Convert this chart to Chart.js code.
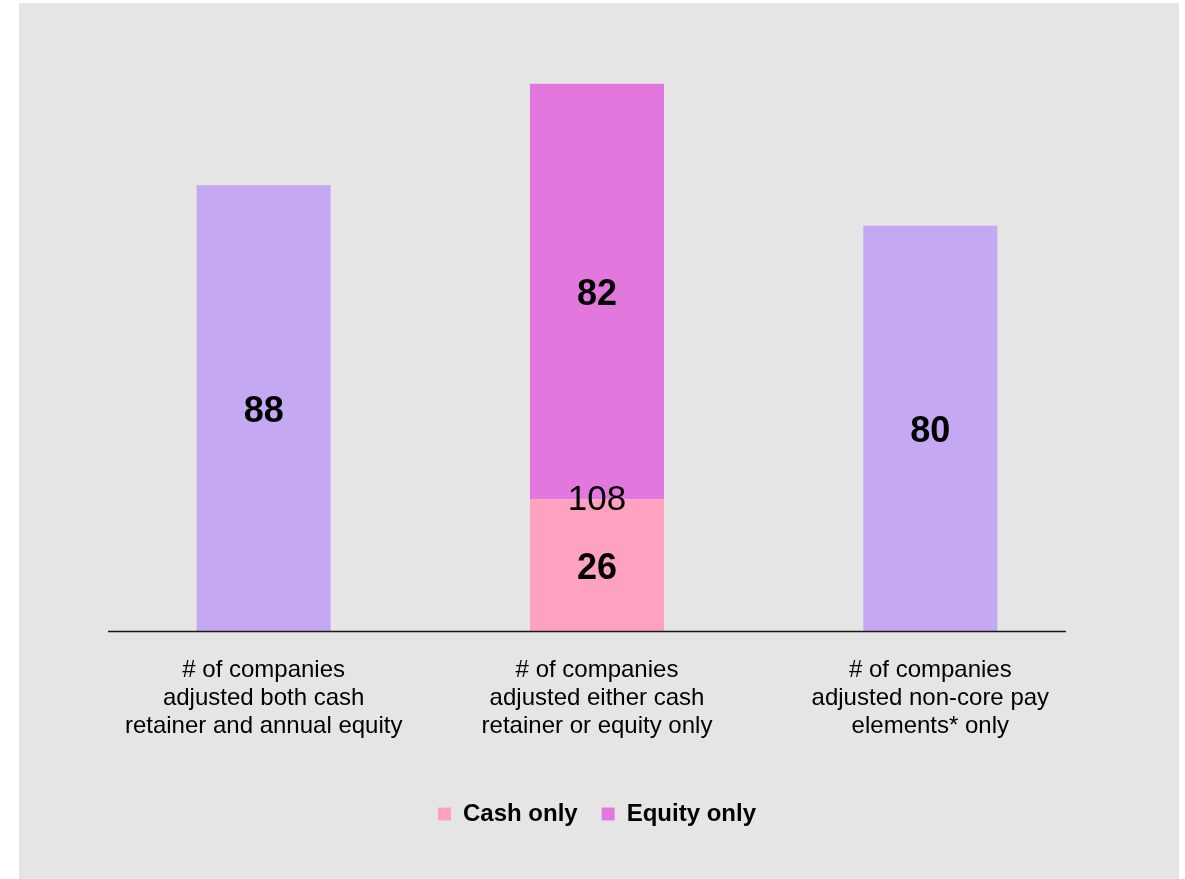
<!DOCTYPE html>
<html>
<head>
<meta charset="utf-8">
<script src="https://cdn.jsdelivr.net/npm/chart.js@4.4.1/dist/chart.umd.min.js"></script>
<style>
  body { margin: 0; background: #fff; }
  #wrap { position: absolute; left: 19px; top: 3px; width: 1160px; height: 876px; background: #e5e5e5; }
</style>
</head>
<body>
<div id="wrap"><canvas id="adjchart" width="1160" height="876"></canvas></div>
<script>
const categories = [
    ['# of companies', 'adjusted both cash', 'retainer and annual equity'],
    ['# of companies', 'adjusted either cash', 'retainer or equity only'],
    ['# of companies', 'adjusted non-core pay', 'elements* only']
];
const cashOnly = [null, 26, null];
const equityOnly = [null, 82, null];
const singleCount = [88, null, 80];

const FONT = '"Liberation Sans", Arial, Helvetica, sans-serif';

// value labels in the middle of each segment + total on the stacked bar
const barLabels = {
    id: 'barLabels',
    afterDatasetsDraw(chart) {
        const ctx = chart.ctx;
        const area = chart.chartArea;
        ctx.save();

        // base line
        ctx.strokeStyle = '#1a1a1a';
        ctx.lineWidth = 1.5;
        ctx.beginPath();
        ctx.moveTo(area.left + 11, area.bottom + 0.5);
        ctx.lineTo(area.right - 31, area.bottom + 0.5);
        ctx.stroke();

        ctx.textAlign = 'center';
        ctx.textBaseline = 'middle';
        ctx.fillStyle = '#000';
        ctx.font = 'bold 36px ' + FONT;
        chart.data.datasets.forEach((ds, i) => {
            const meta = chart.getDatasetMeta(i);
            meta.data.forEach((bar, j) => {
                const v = ds.data[j];
                if (v == null) return;
                const c = bar.getCenterPoint();
                ctx.fillText(v, c.x, c.y + 4);
            });
        });

        ctx.font = '35px ' + FONT;
        const cashMeta = chart.getDatasetMeta(0);
        cashOnly.forEach((v, j) => {
            if (v == null) return;
            const bar = cashMeta.data[j];
            ctx.fillText(v + equityOnly[j], bar.x, bar.y + 1);
        });
        ctx.restore();
    }
};

new Chart(document.getElementById('adjchart'), {
    type: 'bar',
    data: {
        labels: categories,
        datasets: [{
            label: 'Cash only',
            data: cashOnly,
            backgroundColor: '#ffa2c2'
        }, {
            label: 'Equity only',
            data: equityOnly,
            backgroundColor: '#e278de'
        }, {
            label: 'both',
            data: singleCount,
            backgroundColor: '#c4a8f1'
        }]
    },
    options: {
        responsive: false,
        animation: false,
        layout: {
            padding: { left: 78, right: 82, top: 20, bottom: 43 }
        },
        datasets: {
            bar: {
                categoryPercentage: 1,
                barPercentage: 0.402,
                borderWidth: 0
            }
        },
        scales: {
            x: {
                stacked: true,
                grid: { display: false, drawTicks: false },
                border: { display: false },
                ticks: {
                    padding: 25,
                    color: '#000',
                    font: { family: FONT, size: 24, lineHeight: 1.1667 }
                },
                afterFit(scale) {
                    scale.height = 147;
                }
            },
            y: {
                stacked: true,
                display: false,
                min: 0,
                max: 120
            }
        },
        plugins: {
            tooltip: { enabled: false },
            legend: {
                position: 'bottom',
                labels: {
                    boxWidth: 13,
                    boxHeight: 13,
                    padding: 24,
                    color: '#000',
                    font: { family: FONT, size: 24, weight: 'bold' },
                    filter: item => item.datasetIndex < 2
                }
            }
        }
    },
    plugins: [barLabels]
});
</script>
</body>
</html>
